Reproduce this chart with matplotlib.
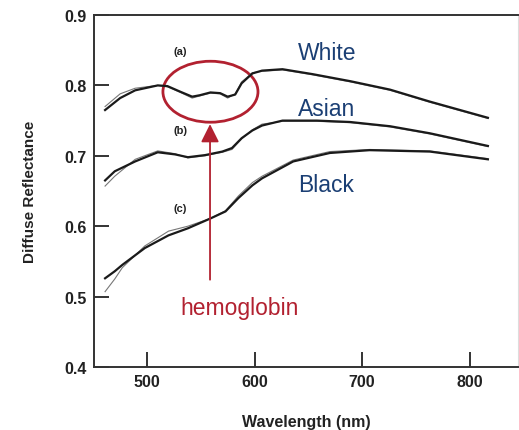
import matplotlib
matplotlib.use("Agg")
import matplotlib.pyplot as plt
from matplotlib.patches import Ellipse

plt.rcParams["font.family"] = ["Liberation Sans", "DejaVu Sans"]

# wavelengths (nm) and diffuse reflectance
wl_white = [461, 475, 489, 510, 519, 531, 542, 549, 559, 568, 575, 582, 588, 598, 607, 626, 654, 689, 726, 763, 817]
white_meas = [0.765, 0.782, 0.793, 0.800, 0.799, 0.791, 0.784, 0.786, 0.790, 0.789, 0.784, 0.787, 0.803, 0.817, 0.821,
              0.823, 0.816, 0.806, 0.794, 0.777, 0.754]
white_fit = [0.770, 0.788, 0.796, 0.800, 0.798, 0.790, 0.782, 0.785, 0.789, 0.788, 0.782, 0.788, 0.805, 0.818, 0.820,
             0.822, 0.815, 0.805, 0.793, 0.776, 0.753]

wl_asian = [461, 470, 489, 510, 526, 538, 554, 570, 579, 588, 598, 607, 626, 658, 689, 726, 763, 817]
asian_meas = [0.665, 0.678, 0.692, 0.705, 0.702, 0.698, 0.701, 0.706, 0.711, 0.725, 0.736, 0.743, 0.750, 0.750, 0.748,
              0.742, 0.732, 0.714]
asian_fit = [0.657, 0.671, 0.695, 0.707, 0.703, 0.697, 0.700, 0.705, 0.709, 0.724, 0.737, 0.745, 0.749, 0.749, 0.747,
             0.741, 0.731, 0.713]

wl_black = [461, 470, 477, 498, 520, 538, 559, 573, 585, 598, 607, 636, 670, 707, 763, 817]
black_meas = [0.526, 0.536, 0.545, 0.569, 0.587, 0.597, 0.611, 0.621, 0.640, 0.658, 0.668, 0.692, 0.704, 0.708, 0.706,
              0.695]
black_fit = [0.507, 0.525, 0.541, 0.572, 0.593, 0.600, 0.611, 0.622, 0.643, 0.662, 0.671, 0.694, 0.706, 0.709, 0.707,
             0.696]

xticks = [500, 600, 700, 800]
yticks = [0.4, 0.5, 0.6, 0.7, 0.8, 0.9]

fig = plt.figure(figsize=(5.19, 4.31), dpi=100)
ax = fig.add_axes([94 / 519, 1 - 368 / 431, 424 / 519, 352 / 431])

for wl, meas, fit in [(wl_white, white_meas, white_fit),
                      (wl_asian, asian_meas, asian_fit),
                      (wl_black, black_meas, black_fit)]:
    ax.plot(wl, fit, color="#777777", lw=0.8)
    ax.plot(wl, meas, color="#1a1a1a", lw=1.6)

ax.set_xlim(450.7, 845)
ax.set_ylim(0.4, 0.9)
ax.set_xticks(xticks)
ax.set_yticks(yticks)
ax.set_yticklabels([f"{v:.1f}" for v in yticks])
ax.tick_params(direction="in", length=10.8, width=1.4, color="#333333", labelsize=11.5,
               labelcolor="#222222", pad=5)
for lab in ax.get_xticklabels() + ax.get_yticklabels():
    lab.set_fontweight("bold")
for side in ["left", "bottom", "top"]:
    ax.spines[side].set_linewidth(1.4)
    ax.spines[side].set_color("#333333")
ax.spines["right"].set_color("#dddddd")
ax.spines["right"].set_linewidth(0.8)

ax.set_xlabel("Wavelength (nm)", fontsize=11.5, fontweight="bold", color="#222222", labelpad=18)
ax.set_ylabel("Diffuse Reflectance", fontsize=11, fontweight="bold", color="#222222", labelpad=20)

for lab, y in [("(a)", 0.849), ("(b)", 0.737), ("(c)", 0.626)]:
    ax.text(531, y, lab, fontsize=8, fontweight="bold", color="#222222", ha="center", va="center")

navy = "#1b3f74"
for lab, y in [("White", 0.8375), ("Asian", 0.758), ("Black", 0.650)]:
    ax.text(640.5, y, lab, fontsize=16.5, color=navy, ha="left", va="baseline")

red = "#b22130"
ax.add_patch(Ellipse((559, 0.791), 88.4, 0.0866, fill=False, edgecolor=red, lw=2.0))
ax.annotate("", xy=(558.6, 0.745), xytext=(558.6, 0.524),
            arrowprops=dict(arrowstyle="-|>,head_length=1.1,head_width=0.55", mutation_scale=10,
                            color=red, lw=1.3, shrinkA=0, shrinkB=0))
ax.text(530.7, 0.475, "hemoglobin", fontsize=16.5, color=red, ha="left", va="baseline")

fig.savefig("out.png", dpi=100)
